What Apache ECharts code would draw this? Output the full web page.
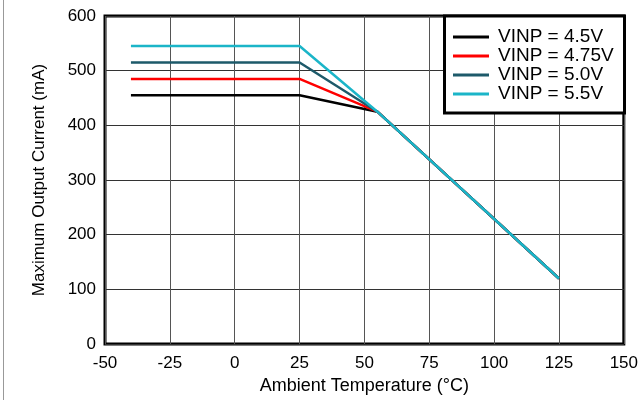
<!DOCTYPE html>
<html>
<head>
<meta charset="utf-8">
<script src="https://cdn.jsdelivr.net/npm/echarts@6/dist/echarts.min.js"></script>
<style>
  html, body { margin: 0; padding: 0; background: #fff; }
  #container { width: 641px; height: 400px; }
</style>
</head>
<body>
<div id="container"></div>
<script>
// 数据
var temps = [-40, 25, 55, 125];
var names = ['VINP = 4.5V', 'VINP = 4.75V', 'VINP = 5.0V', 'VINP = 5.5V'];
var colors = ['#000000', '#ff0000', '#1d5a6a', '#1bb5c8'];
var vinp45 = [455, 455, 425, 120];
var vinp475 = [485, 485, 425, 120];
var vinp50 = [515, 515, 425, 120];
var vinp55 = [545, 545, 425, 120];
var xTicks = [-50, -25, 0, 25, 50, 75, 100, 125, 150];
var yTicks = [0, 100, 200, 300, 400, 500, 600];

var values = [vinp45, vinp475, vinp50, vinp55];

var dom = document.getElementById('container');
var myChart = echarts.init(dom, null, {
  renderer: 'canvas',
  useDirtyRect: false
});

var font = '"Liberation Sans", Arial, sans-serif';

var sss = values.map(function (v, i) {
  return {
    name: names[i],
    type: 'line',
    data: temps.map(function (t, j) { return [t, v[j]]; }),
    showSymbol: false,
    symbol: 'none',
    lineStyle: { color: colors[i], width: 2.5 },
    itemStyle: { color: colors[i] },
    z: 3 + i
  };
});

var option = {
  animation: false,
  backgroundColor: '#fff',
  grid: {
    left: 105,
    right: 16,
    top: 16,
    bottom: 54,
    show: true,
    borderColor: '#000',
    borderWidth: 3,
    backgroundColor: 'transparent'
  },
  legend: {
    data: names,
    orient: 'vertical',
    left: 448,
    top: 22.5,
    icon: 'rect',
    itemWidth: 36,
    itemHeight: 3,
    itemGap: 0,
    z: 10,
    textStyle: {
      fontFamily: font,
      fontSize: 19,
      lineHeight: 18.7,
      color: '#000',
      padding: [0, 0, 0, 4]
    }
  },
  graphic: [
    {
      type: 'rect',
      z: 8,
      shape: { x: 444.5, y: 16, width: 180, height: 97 },
      style: { fill: '#fff', stroke: '#000', lineWidth: 3 }
    },
    {
      type: 'line',
      z: 8,
      shape: { x1: 3.5, y1: 0, x2: 3.5, y2: 400 },
      style: { stroke: '#999', lineWidth: 1 }
    }
  ],
  xAxis: {
    type: 'value',
    min: xTicks[0],
    max: xTicks[xTicks.length - 1],
    interval: 25,
    name: 'Ambient Temperature (°C)',
    nameLocation: 'middle',
    nameGap: 28,
    nameTextStyle: { fontFamily: font, fontSize: 18, color: '#000' },
    axisLine: { show: false },
    axisTick: { show: false },
    axisLabel: { fontFamily: font, fontSize: 17, color: '#000', margin: 11 },
    splitLine: { show: true, lineStyle: { color: '#555', width: 1 } }
  },
  yAxis: {
    type: 'value',
    min: yTicks[0],
    max: yTicks[yTicks.length - 1],
    interval: 100,
    name: 'Maximum Output Current (mA)',
    nameLocation: 'middle',
    nameGap: 57,
    nameTextStyle: { fontFamily: font, fontSize: 17, color: '#000' },
    axisLine: { show: false },
    axisTick: { show: false },
    axisLabel: { fontFamily: font, fontSize: 17, color: '#000', margin: 9 },
    splitLine: { show: true, lineStyle: { color: '#333', width: 1 } }
  },
  series: sss
};

if (option && typeof option === 'object') {
  myChart.setOption(option);
}

window.addEventListener('resize', myChart.resize);
</script>
</body>
</html>
